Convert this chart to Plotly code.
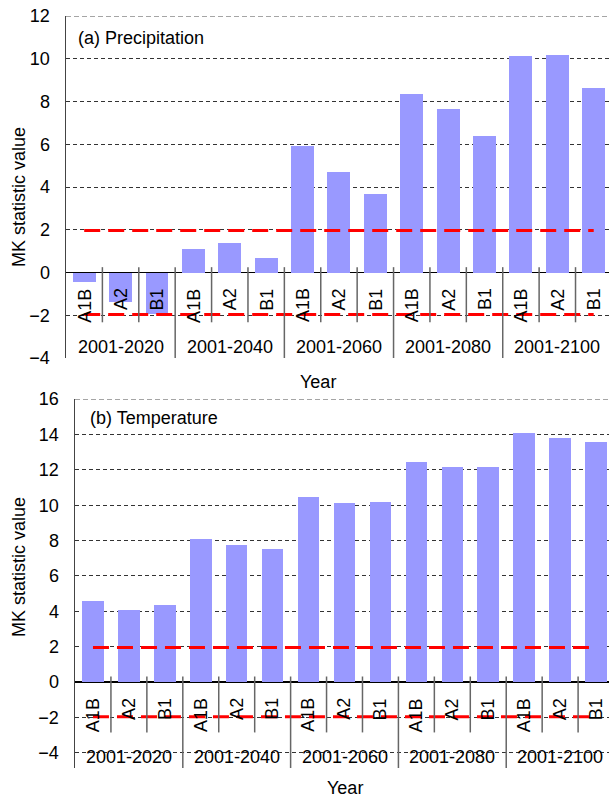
import plotly.graph_objects as go

# ---- data ----
groups = ["2001-2020", "2001-2040", "2001-2060", "2001-2080", "2001-2100"]
scenarios = ["A1B", "A2", "B1"]
precip_mk = [-0.45, -1.39, -1.93, 1.09, 1.37, 0.69, 5.92, 4.69, 3.66,
             8.33, 7.63, 6.37, 10.11, 10.16, 8.61]
temp_mk = [4.61, 4.10, 4.38, 8.10, 7.77, 7.54, 10.47, 10.13, 10.19,
           12.45, 12.17, 12.17, 14.08, 13.80, 13.58]
critical = 1.96
panel_titles = ["(a) Precipitation", "(b) Temperature"]
y_ranges = [(-4, 12), (-4.85, 16)]

# the page body margin is removed (post_script), so the figure fills the 609x797 window
W, H = 609, 797
FONT = "Liberation Sans, Arial, sans-serif"
FS = 18
BAR = "#9999FF"


def px(x):
    return x / W


def py(y):
    return 1 - y / H


n = len(groups) * len(scenarios)
xs = list(range(n))
scen_labels = [s for g in groups for s in scenarios]

fig = go.Figure()

panels = [
    dict(vals=precip_mk, xa="x", ya="y", width=0.63),
    dict(vals=temp_mk, xa="x2", ya="y2", width=0.60),
]

for p in panels:
    fig.add_trace(go.Bar(x=xs, y=p["vals"], marker=dict(color=BAR, line=dict(width=0)),
                         width=p["width"], xaxis=p["xa"], yaxis=p["ya"], showlegend=False,
                         hoverinfo="y"))
    for c in (critical, -critical):
        fig.add_trace(go.Scatter(x=[xs[0], xs[-1]], y=[c, c], mode="lines",
                                 line=dict(color="#FF0000", width=3, dash="16px,8px"),
                                 xaxis=p["xa"], yaxis=p["ya"], showlegend=False,
                                 hoverinfo="skip"))


def yaxis_common():
    return dict(
        dtick=2, tick0=0, showgrid=True, gridcolor="#333333", griddash="4px,3px",
        gridwidth=1, zeroline=True, zerolinecolor="#000000", zerolinewidth=1.6,
        showline=True, linecolor="#444444", linewidth=1.5, ticks="",
        ticklabelstandoff=11, ticklabeloverflow="allow",
        tickfont=dict(family=FONT, size=FS, color="black"),
        fixedrange=True, automargin=False,
    )


def xaxis_common():
    return dict(showticklabels=False, showgrid=False, zeroline=False, showline=False,
                ticks="", fixedrange=True, automargin=False)


fig.update_layout(
    width=W, height=H, margin=dict(l=0, r=0, t=0, b=0, autoexpand=False),
    paper_bgcolor="white", plot_bgcolor="white",
    font=dict(family=FONT, size=FS, color="black"),
    bargap=0,
    xaxis=dict(domain=[px(66), 1], range=[-0.5, 14.42], anchor="y", **xaxis_common()),
    yaxis=dict(domain=[py(358), py(16)], range=list(y_ranges[0]), anchor="x", **yaxis_common()),
    xaxis2=dict(domain=[px(75), 1], range=[-0.5, 14.36], anchor="y2", **xaxis_common()),
    yaxis2=dict(domain=[py(768), py(399)], range=list(y_ranges[1]), anchor="x2", **yaxis_common()),
)

annotations = []
shapes = []
panel_geo = [
    # xref, yref, sep top, short sep bottom, long sep bottom, group label y, top value
    ("x", "y", 0.25, -2.33, -4.0, -3.5, y_ranges[0][1]),
    ("x2", "y2", 0.32, -2.84, -4.85, -4.25, y_ranges[1][1]),
]
for (xr, yr, st, sb, lb, gy, top) in panel_geo:
    for i, lab in enumerate(scen_labels):
        annotations.append(dict(x=xs[i], y=0, xref=xr, yref=yr, text=lab, textangle=-90,
                                showarrow=False, yanchor="top", xanchor="center", yshift=-14,
                                font=dict(family=FONT, size=FS, color="black")))
    for g, gl in enumerate(groups):
        annotations.append(dict(x=g * len(scenarios) + (len(scenarios) - 1) / 2, y=gy,
                                xref=xr, yref=yr, text=gl, showarrow=False,
                                xanchor="center", yanchor="middle",
                                font=dict(family=FONT, size=FS, color="black")))
    for i in range(n - 1):
        long_sep = (i + 1) % len(scenarios) == 0
        shapes.append(dict(type="line", xref=xr, yref=yr, x0=i + 0.5, x1=i + 0.5,
                           y0=st, y1=lb if long_sep else sb,
                           line=dict(color="#666666", width=1.5)))
    # dashed top border of the panel (top gridline)
    shapes.append(dict(type="line", xref=xr + " domain", yref=yr, x0=0, x1=1, y0=top, y1=top,
                       line=dict(color="#888888", width=1.5, dash="5px,3px")))

# panel titles
annotations.append(dict(x=px(76), y=py(38), xref="paper", yref="paper", text=panel_titles[0],
                        showarrow=False, xanchor="left", yanchor="middle",
                        font=dict(family=FONT, size=FS, color="black")))
annotations.append(dict(x=px(88), y=py(418), xref="paper", yref="paper", text=panel_titles[1],
                        showarrow=False, xanchor="left", yanchor="middle",
                        font=dict(family=FONT, size=FS, color="black")))
# axis titles
for yc in (197, 567):
    annotations.append(dict(x=px(19), y=py(yc), xref="paper", yref="paper",
                            text="MK statistic value", textangle=-90, showarrow=False,
                            xanchor="center", yanchor="middle",
                            font=dict(family=FONT, size=FS, color="black")))
for (xc, yc) in [(318, 382), (345, 788)]:
    annotations.append(dict(x=px(xc), y=py(yc), xref="paper", yref="paper",
                            text="Year", showarrow=False, xanchor="center", yanchor="middle",
                            font=dict(family=FONT, size=FS, color="black")))

fig.update_layout(annotations=annotations, shapes=shapes)

fig.write_html(
    "out.html",
    config={"displayModeBar": False, "staticPlot": True},
    post_script="document.body.style.margin='0';document.body.style.overflow='hidden';",
)
